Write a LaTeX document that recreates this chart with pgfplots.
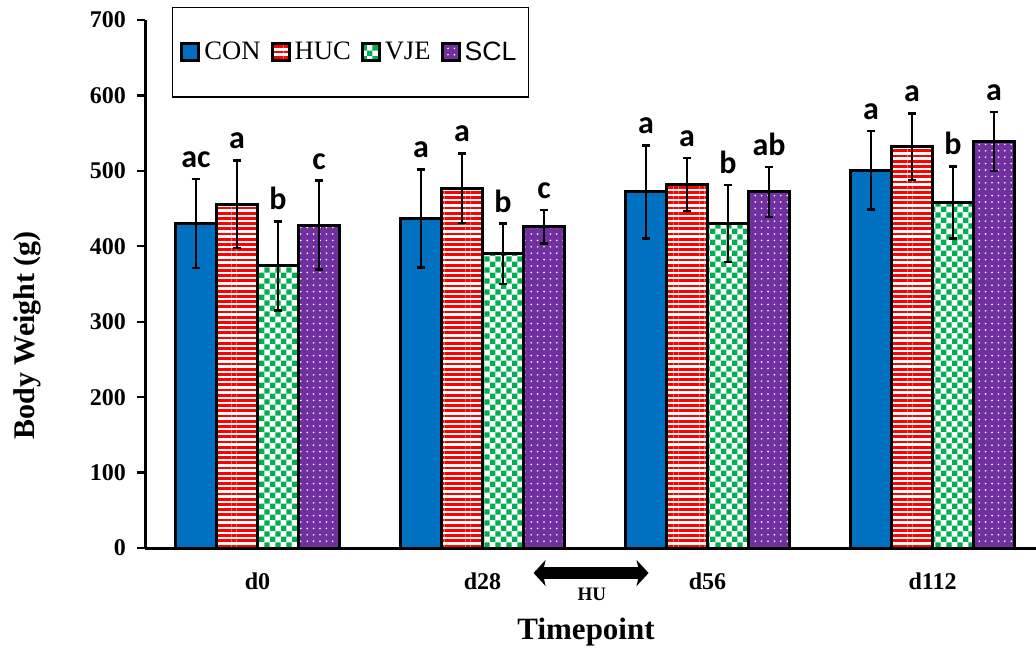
\documentclass[border=0pt]{standalone}
\usepackage{pgfplots}
\pgfplotsset{compat=1.18}
\usepackage{pgfplotstable}
\usepackage{fontspec}
\setmainfont{Liberation Serif}
\setsansfont{Liberation Sans}
\newfontfamily\calib{Carlito}
\usetikzlibrary{patterns.meta,arrows.meta}
\definecolor{conblue}{RGB}{0,112,192}
\definecolor{hucred}{RGB}{255,0,0}
\definecolor{vjegreen}{RGB}{0,176,80}
\definecolor{sclpurple}{RGB}{112,48,160}
\tikzdeclarepattern{
  name=mycheck,
  type=uncolored,
  bottom left={(0pt,0pt)},
  top right={(5.4pt,5.4pt)},
  tile size={(5.4pt,5.4pt)},
  code={\fill (0pt,0pt) rectangle (2.7pt,2.7pt); \fill (2.7pt,2.7pt) rectangle (5.4pt,5.4pt);}
}
\pgfplotsset{
  sqleg/.style={legend image code/.code={\draw[##1, line width=1.5pt] (0pt,-4.25pt) rectangle (8.5pt,4.25pt);}},
  errs/.style={error bars/.cd, y dir=both, y explicit,
    error bar style={line width=1.3pt, black},
    error mark options={rotate=90, mark size=2.2pt, line width=1.3pt, black}},
  lab/.style={forget plot, draw=none, fill=none, nodes near coords, point meta=explicit symbolic,
    every node near coord/.append style={font=\calib\bfseries\fontsize{16}{16}\selectfont, inner sep=1pt, yshift=4.5pt, text=black}},
}
\pgfplotstableread{
x y e t lab
0 430 59 489 ac
1 437 65 502 a
2 472 62 534 a
3 501 52 553 a
}\con
\pgfplotstableread{
x y e t lab
0 456 58 514 a
1 477 46 523 a
2 482 35 517 a
3 532 44 576 a
}\huc
\pgfplotstableread{
x y e t lab
0 374 59 433 b
1 390 40 430 b
2 430 51 481 b
3 458 48 506 b
}\vje
\pgfplotstableread{
x y e t lab
0 428 59 487 c
1 426 22 448 c
2 472 33 505 ab
3 539 39 578 a
}\scl
\begin{document}
\begin{tikzpicture}
\useasboundingbox (-72.5pt,-51pt) rectangle (445.5pt,274pt);
\begin{axis}[
  scale only axis, width=445.5pt, height=264pt,
  xmin=-0.5, xmax=3.46, ymin=0, ymax=700,
  ybar, bar width=20.5pt,
  axis x line=bottom, axis y line=left,
  axis line style={-, line width=1.5pt, black},
  xtick={0,1,2,3},
  xticklabels={d0,d28,d56,d112},
  ytick={0,100,...,700},
  tick align=outside,
  major tick length=4pt,
  ytick style={line width=1.2pt, black},
  xtick style={draw=none},
  tick label style={font=\bfseries\fontsize{12}{14}\selectfont},
  /pgf/number format/assume math mode=true,
  xticklabel style={yshift=-5pt},
  yticklabel style={xshift=-2pt},
  ylabel={Body Weight (g)},
  ylabel style={font=\bfseries\fontsize{15}{17}\selectfont, at={(axis description cs:0,0.403)}, anchor=center, yshift=59pt},
  xlabel={Timepoint},
  xlabel style={font=\bfseries\fontsize{15.5}{18}\selectfont, at={(axis description cs:0.495,0)}, anchor=center, yshift=-42pt},
  clip=false,
  legend columns=4,
  legend style={at={(0.03,1.025)}, anchor=north west, draw=black, line width=0.7pt,
    inner xsep=4pt, inner ysep=15pt, font=\fontsize{13.3}{15}\selectfont,
    /tikz/every even column/.append style={column sep=3pt}},
]
\addplot[draw=black, line width=1.5pt, fill=conblue, bar shift=-30.75pt, sqleg, errs]
  table[x=x, y=y, y error=e] {\con};
\addlegendentry{CON}
\addplot[draw=black, line width=1.5pt, pattern={Lines[angle=0, distance=2.6pt, line width=1.4pt]}, pattern color=hucred, preaction={fill=white}, bar shift=-10.25pt, sqleg, errs]
  table[x=x, y=y, y error=e] {\huc};
\addlegendentry{HUC}
\addplot[draw=black, line width=1.5pt, pattern=mycheck, pattern color=vjegreen, preaction={fill=white}, bar shift=10.25pt, sqleg, errs]
  table[x=x, y=y, y error=e] {\vje};
\addlegendentry{VJE}
\addplot[draw=black, line width=1.5pt, pattern={Dots[distance=3.2pt, radius=0.45pt]}, pattern color=white, preaction={fill=sclpurple}, bar shift=30.75pt, sqleg, errs]
  table[x=x, y=y, y error=e] {\scl};
\addlegendentry{\sffamily SCL}
\addplot[lab, bar shift=-30.75pt] table[x=x, y=t, meta=lab] {\con};
\addplot[lab, bar shift=-10.25pt] table[x=x, y=t, meta=lab] {\huc};
\addplot[lab, bar shift=10.25pt] table[x=x, y=t, meta=lab] {\vje};
\addplot[lab, bar shift=30.75pt] table[x=x, y=t, meta=lab] {\scl};
\draw[line width=6pt, {Stealth[length=6pt,width=13pt,inset=1.5pt]}-{Stealth[length=6pt,width=13pt,inset=1.5pt]}]
  ([yshift=-12.5pt]axis cs:1.227,0) -- ([yshift=-12.5pt]axis cs:1.738,0);
\node[font=\bfseries\fontsize{9.5}{10}\selectfont] at ([yshift=-23pt]axis cs:1.486,0) {HU};
\end{axis}
\end{tikzpicture}
\end{document}
